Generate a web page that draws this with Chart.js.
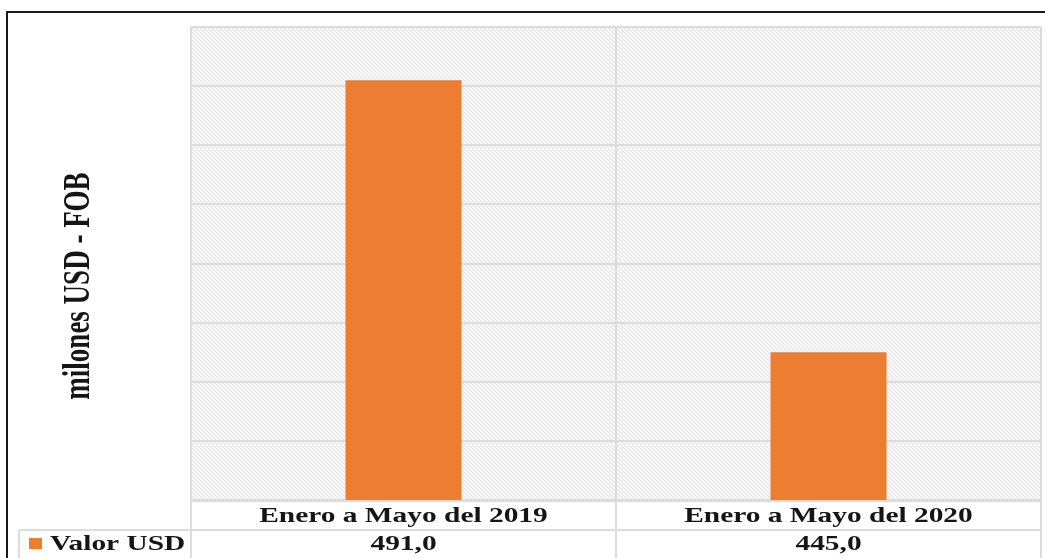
<!DOCTYPE html>
<html lang="es">
<head>
<meta charset="UTF-8">
<title>Valor USD - Enero a Mayo</title>
<script src="https://cdn.jsdelivr.net/npm/chart.js@4.4.0/dist/chart.umd.min.js"></script>
<style>
  * { margin: 0; padding: 0; box-sizing: border-box; }
  html, body { width: 1045px; height: 558px; background: #fff; overflow: hidden; }
  #chart { display: block; }
</style>
</head>
<body>
<canvas id="chart" width="1045" height="558"></canvas>
<script>
// data
const categories = ['Enero a Mayo del 2019', 'Enero a Mayo del 2020'];
const valorUSD = [491.0, 445.0];
const seriesName = 'Valor USD';
const yTitle = 'milones USD - FOB';
const yMin = 420, yMax = 500, yStep = 10;

const ORANGE = '#ED7D31';
const GRID = '#dcdcdc';
const FONT = '"Liberation Serif", "Times New Roman", serif';
const STRETCH = 1.4; // source picture is widened horizontally

function fmt(v) {
    return v.toFixed(1).replace('.', ',');
}

// draw text widened like the reference
function wideText(ctx, text, x, y, align) {
    ctx.save();
    ctx.translate(x, y);
    ctx.scale(STRETCH, 1);
    ctx.textAlign = align;
    ctx.fillText(text, 0, 0);
    ctx.restore();
}

function makeHatch(ctx) {
    const c = document.createElement('canvas');
    c.width = c.height = 4;
    const g = c.getContext('2d');
    g.fillStyle = '#f7f7f7';
    g.fillRect(0, 0, 4, 4);
    g.fillStyle = '#e2e2e2';
    for (let i = 0; i < 4; i++) g.fillRect(i, i, 1, 1);
    return ctx.createPattern(c, 'repeat');
}

const tablePlugin = {
    id: 'dataTable',
    beforeDraw(chart) {
        const { ctx, chartArea: a } = chart;
        ctx.save();
        ctx.fillStyle = makeHatch(ctx);
        ctx.fillRect(a.left, a.top, a.right - a.left, a.bottom - a.top);
        ctx.restore();
    },
    afterDraw(chart) {
        const { ctx, chartArea: a } = chart;
        const x = chart.scales.x;
        const H = chart.height;
        const rowTop = a.bottom + 1;
        const rowMid = a.bottom + 30;
        const legendLeft = 19;

        ctx.save();
        // table lines
        ctx.strokeStyle = GRID;
        ctx.lineWidth = 2;
        ctx.beginPath();
        ctx.moveTo(a.left, rowTop); ctx.lineTo(a.right, rowTop);
        ctx.moveTo(legendLeft, rowMid); ctx.lineTo(a.right, rowMid);
        ctx.moveTo(legendLeft, rowMid); ctx.lineTo(legendLeft, H);
        const edges = [a.left];
        categories.forEach((c, i) => {
            edges.push(x.getPixelForValue(i) + (x.getPixelForValue(1) - x.getPixelForValue(0)) / 2);
        });
        edges.forEach(e => { ctx.moveTo(e, a.bottom); ctx.lineTo(e, H); });
        ctx.stroke();

        // category row and values row
        ctx.fillStyle = '#151515';
        ctx.font = 'bold 21px ' + FONT;
        ctx.textBaseline = 'middle';
        categories.forEach((c, i) => {
            const cx = x.getPixelForValue(i);
            wideText(ctx, c, cx, (rowTop + rowMid) / 2 + 1, 'center');
            wideText(ctx, fmt(valorUSD[i]), cx, (rowMid + H) / 2 + 1, 'center');
        });

        // legend key
        ctx.fillStyle = ORANGE;
        ctx.fillRect(29, rowMid + 8, 13, 11);
        ctx.fillStyle = '#151515';
        wideText(ctx, seriesName, 50, (rowMid + H) / 2 + 1, 'left');

        // y title
        ctx.save();
        ctx.translate(79, 286);
        ctx.rotate(-Math.PI / 2);
        ctx.scale(1, STRETCH);
        ctx.font = 'bold 27px ' + FONT;
        ctx.textAlign = 'center';
        ctx.textBaseline = 'middle';
        ctx.fillText(yTitle, 0, 0);
        ctx.restore();

        // outer frame
        ctx.fillStyle = '#1a1a1a';
        ctx.fillRect(6, 11, chart.width - 6, 2);
        ctx.fillRect(6, 11, 2, H - 11);
        ctx.restore();
    }
};

new Chart(document.getElementById('chart'), {
    type: 'bar',
    data: {
        labels: categories,
        datasets: [{
            label: seriesName,
            data: valorUSD,
            backgroundColor: ORANGE,
            borderWidth: 0,
            categoryPercentage: 1,
            barPercentage: 0.273
        }]
    },
    options: {
        responsive: false,
        animation: false,
        devicePixelRatio: 1,
        layout: { padding: { top: 27, right: 4, left: 0, bottom: 0 } },
        plugins: {
            legend: { display: false },
            tooltip: { enabled: false }
        },
        scales: {
            x: {
                grid: { color: GRID, lineWidth: 2, offset: true, drawTicks: false },
                border: { display: false },
                ticks: { display: false },
                afterFit: s => { s.height = 58; }
            },
            y: {
                min: yMin,
                max: yMax,
                ticks: { display: false, stepSize: yStep },
                grid: { color: GRID, lineWidth: 2, drawTicks: false },
                border: { display: false },
                afterFit: s => { s.width = 191; }
            }
        }
    },
    plugins: [tablePlugin]
});
</script>
</body>
</html>
